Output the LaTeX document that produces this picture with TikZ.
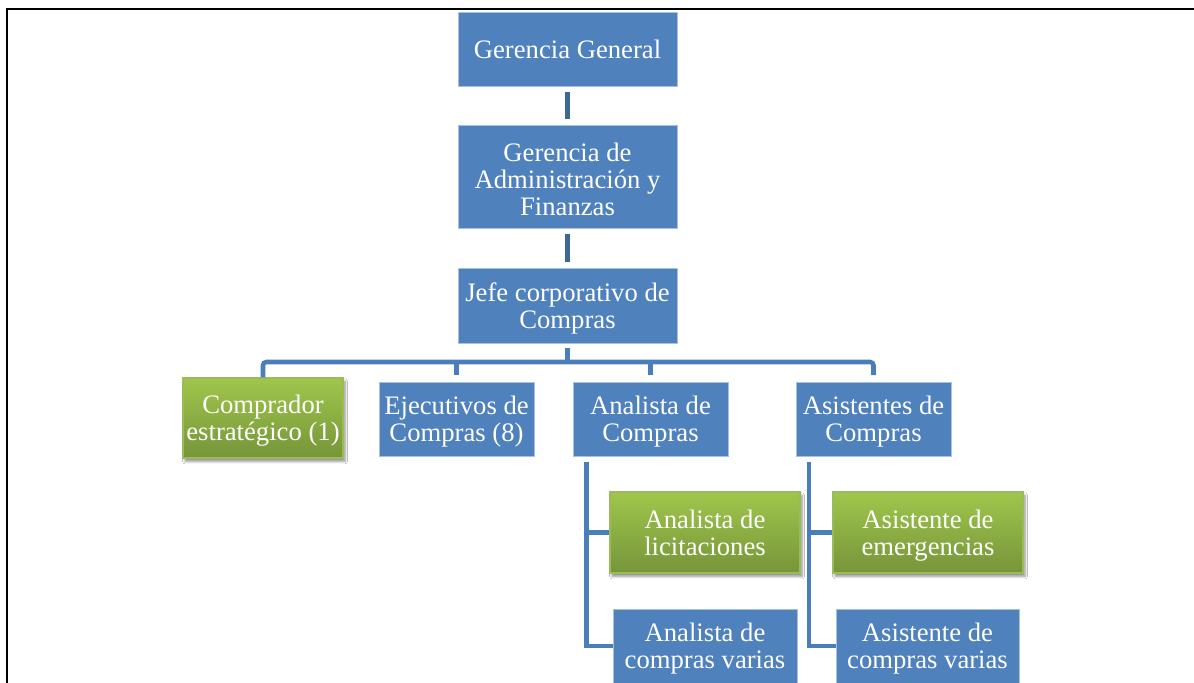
\documentclass[tikz,border=0pt]{standalone}
\usepackage{fontspec}
\setmainfont{Liberation Serif}
\usetikzlibrary{shadows.blur}
\definecolor{boxblue}{HTML}{4F81BD}
\definecolor{boxedge}{HTML}{A9C1E0}
\definecolor{linkblue}{HTML}{4A7EBB}
\definecolor{linkdark}{HTML}{3C6797}
\definecolor{greentop}{HTML}{A0C64C}
\definecolor{greenbot}{HTML}{76953A}
\definecolor{greenedge}{HTML}{9BBB59}
% struts fixing the ascent of a first line and the descent of a last line
\newcommand\orgup{\rule{0pt}{17.8pt}}
\newcommand\orgdn{\rule[-4.3pt]{0pt}{4.3pt}}
\tikzset{
  x=0.75pt, y=-0.75pt,
  orgbox/.style 2 args={rectangle, inner sep=0pt, align=center,
    minimum width=#1*0.75pt, minimum height=#2*0.75pt,
    text=white, font=\fontsize{20}{20.25}\selectfont},
  bluebox/.style 2 args={orgbox={#1}{#2}, fill=boxblue, draw=boxedge, line width=0.4pt},
  greenbox/.style 2 args={orgbox={#1}{#2}, top color=greentop, bottom color=greenbot,
    draw=greenedge, line width=0.8pt,
    blur shadow={shadow xshift=1.5pt, shadow yshift=-2.5pt, shadow blur steps=6, shadow opacity=45}},
  toplink/.style={draw=linkdark, line width=3.6pt, shorten <=4.5pt, shorten >=4.5pt},
  link/.style={draw=linkblue, line width=3.4pt},
}
\begin{document}
\begin{tikzpicture}
\useasboundingbox (0,0) rectangle (1194,682);
\fill[white] (0,0) rectangle (1194,682);
\clip (0,0) rectangle (1194,682);

% outer frame (top and left edges)
\draw[line width=1.5pt, black] (7,690) -- (7,8.5) -- (1200,8.5);

% management chain
\node[bluebox={219}{74}]  (gg)   at (567.5,49)    {Gerencia General};
\node[bluebox={219}{103}] (gaf)  at (567.5,176.5) {\orgup Gerencia de\\Administración y\\Finanzas};
\node[bluebox={219}{75}]  (jefe) at (567.5,305.5) {\orgup Jefe corporativo de\\Compras\orgdn};

% purchasing staff
\node[greenbox={160}{80}] (comp) at (263,418)   {\orgup Comprador\\estratégico (1)\orgdn};
\node[bluebox={155}{74}]  (ejec) at (456.5,419) {\orgup Ejecutivos de\\Compras (8)\orgdn};
\node[bluebox={155}{74}]  (anal) at (650.5,419) {\orgup Analista de\\Compras\orgdn};
\node[bluebox={155}{74}]  (asis) at (873.5,419) {\orgup Asistentes de\\Compras\orgdn};

% analysts
\node[greenbox={190}{81}] (alic) at (705,532.5) {\orgup Analista de\\licitaciones\orgdn};
\node[bluebox={184}{74}]  (acv)  at (705,646)   {\orgup Analista de\\compras varias\orgdn};

% assistants
\node[greenbox={190}{81}] (aem)  at (928,532.5)   {\orgup Asistente de\\emergencias\orgdn};
\node[bluebox={183}{74}]  (ascv) at (927.5,646)   {\orgup Asistente de\\compras varias\orgdn};

% connectors
\draw[toplink] (gg) -- (gaf);
\draw[toplink] (gaf) -- (jefe);

\coordinate (bar) at (568,362);
\draw[link, shorten <=3.5pt] (jefe.south) -- (jefe.south |- bar);
\draw[link, rounded corners=2.5pt, shorten >=5pt] (comp.north) |- (bar) -| (asis.north);
\draw[link, shorten >=5pt] (ejec.north |- bar) -- (ejec.north);
\draw[link, shorten >=5pt] (anal.north |- bar) -- (anal.north);

\coordinate (aspine) at ([xshift=10.5pt]anal.south west);
\draw[link, shorten <=4.5pt] (aspine) |- (alic.west);
\draw[link, shorten <=4.5pt] (aspine) |- (acv.west);

\coordinate (sspine) at ([xshift=10pt]asis.south west);
\draw[link, shorten <=4.5pt] (sspine) |- (aem.west);
\draw[link, shorten <=4.5pt] (sspine) |- (ascv.west);
\end{tikzpicture}
\end{document}
